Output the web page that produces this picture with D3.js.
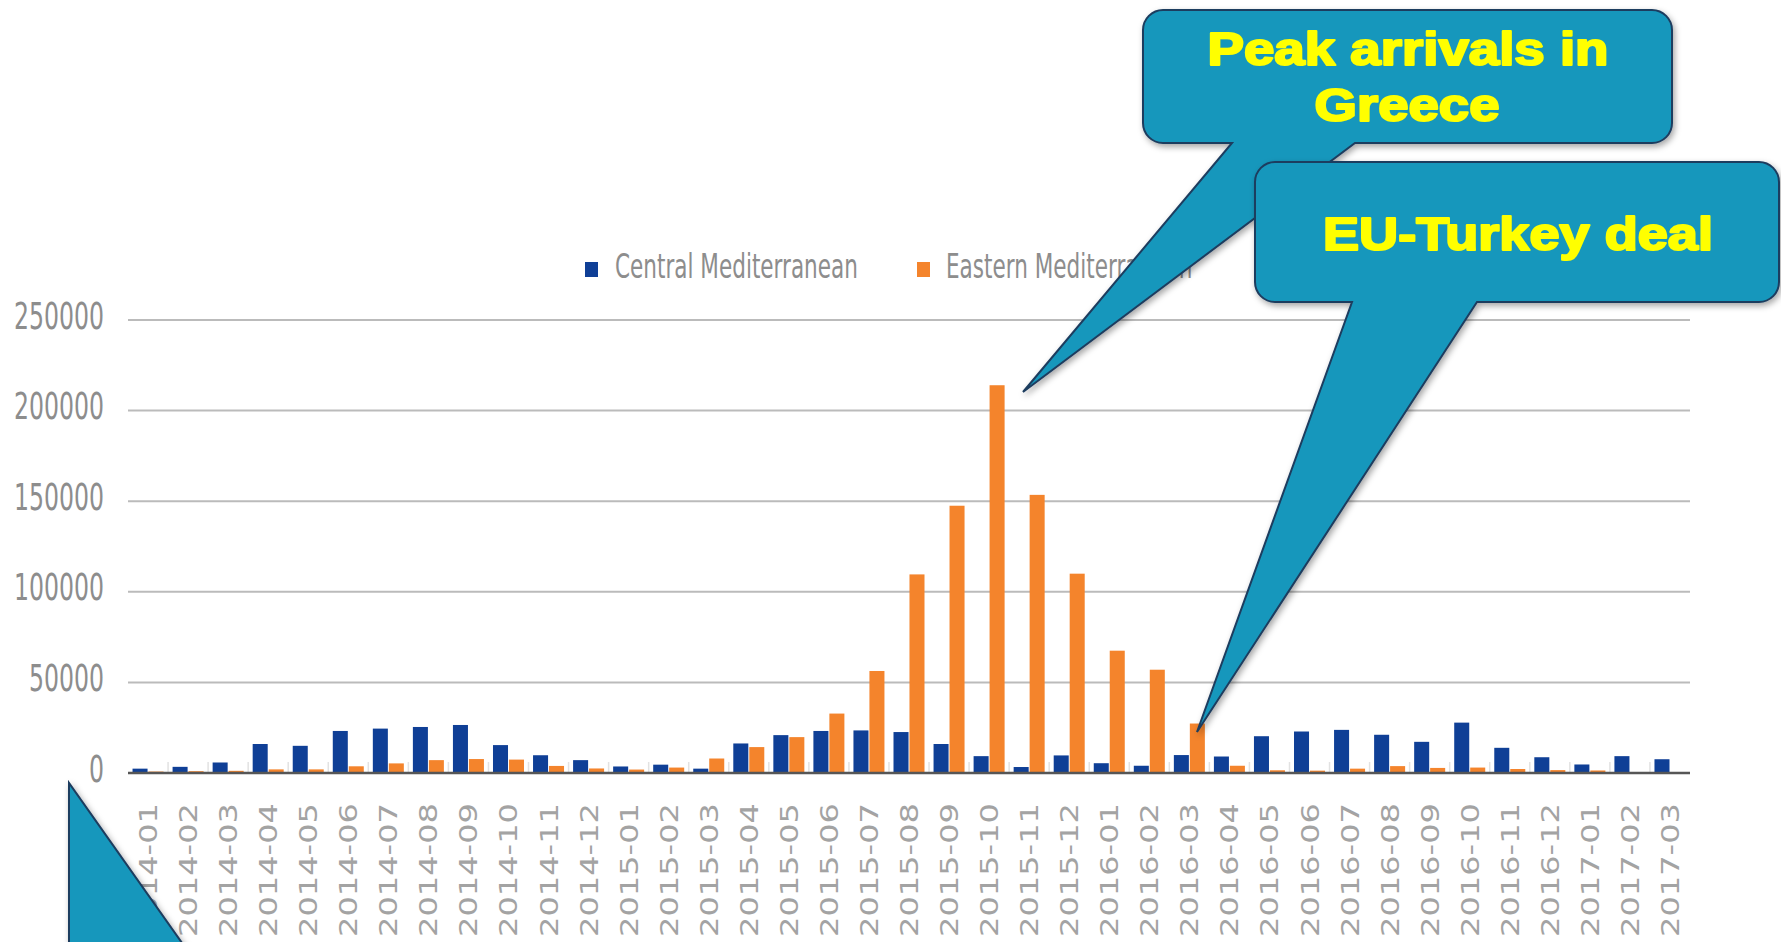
<!DOCTYPE html>
<html>
<head>
<meta charset="utf-8">
<script src="https://cdn.jsdelivr.net/npm/d3@7"></script>
<style>
html,body{margin:0;padding:0;background:#fff;overflow:hidden;}
svg{display:block;}
</style>
</head>
<body>
<svg id="chart" width="1781" height="942"></svg>
<script>
// ---- data ----
const months = [
  "2014-01","2014-02","2014-03","2014-04","2014-05","2014-06","2014-07","2014-08","2014-09","2014-10","2014-11","2014-12",
  "2015-01","2015-02","2015-03","2015-04","2015-05","2015-06","2015-07","2015-08","2015-09","2015-10","2015-11","2015-12",
  "2016-01","2016-02","2016-03","2016-04","2016-05","2016-06","2016-07","2016-08","2016-09","2016-10","2016-11","2016-12",
  "2017-01","2017-02","2017-03"
];
const central = [
  2400, 3400, 5800, 16000, 15000, 23200, 24500, 25400, 26500, 15400, 9800, 7100,
  3600, 4600, 2400, 16300, 20900, 23200, 23500, 22600, 16000, 9300, 3300, 9700,
  5400, 4000, 9900, 9100, 20300, 22900, 23800, 21100, 17200, 27800, 13900, 8700,
  4700, 9300, 7600
];
const eastern = [
  800, 1000, 1200, 2000, 2000, 3700, 5300, 7100, 7700, 7400, 3900, 2500,
  1900, 3000, 8000, 14300, 19800, 32800, 56300, 109600, 147500, 214000, 153500, 110000,
  67500, 57000, 27300, 4000, 1500, 1300, 2400, 3800, 2800, 3000, 2200, 1600,
  1400, 400, 300
];
const seriesNames = ["Central Mediterranean", "Eastern Mediterranean"];
const seriesColors = ["#0f3f96", "#f4842c"];
const yTicks = [0, 50000, 100000, 150000, 200000, 250000];
const callout1Lines = ["Peak arrivals in", "Greece"];
const callout2Lines = ["EU-Turkey deal"];

// ---- layout ----
const svg = d3.select("#chart");
const left = 128, right = 1690, y0 = 773, yTop = 320;

const x = d3.scaleBand().domain(months).range([left, right]).paddingInner(0).paddingOuter(0);
const bw = x.bandwidth();
const x1 = d3.scaleBand().domain([0, 1]).range([bw / 2 - 15.5, bw / 2 + 15.5]).paddingInner(0.06);
const y = d3.scaleLinear().domain([0, 250000]).range([y0, yTop]);

const defs = svg.append("defs");
const f = defs.append("filter").attr("id", "shadow").attr("x", "-10%").attr("y", "-10%").attr("width", "130%").attr("height", "130%");
f.append("feDropShadow").attr("dx", 2).attr("dy", 3).attr("stdDeviation", 3).attr("flood-color", "#000").attr("flood-opacity", 0.35);

// gridlines
svg.append("g").selectAll("line").data(yTicks.filter(d => d > 0)).join("line")
  .attr("x1", left).attr("x2", right)
  .attr("y1", d => y(d)).attr("y2", d => y(d))
  .attr("stroke", "#bbbbbb").attr("stroke-width", 2);

// faint category separators
svg.append("g").selectAll("line").data(months.slice(1)).join("line")
  .attr("x1", d => x(d)).attr("x2", d => x(d))
  .attr("y1", y0).attr("y2", y0 - 11)
  .attr("stroke", "#e2e2e2").attr("stroke-width", 1.5);

// y axis labels
const yAxis = svg.append("g").attr("transform", "translate(104,0)")
  .call(d3.axisLeft(y).tickValues(yTicks).tickSize(0).tickPadding(0).tickFormat(d3.format("d")));
yAxis.select(".domain").remove();
yAxis.selectAll("text")
  .attr("font-family", "'Liberation Sans Narrow','DejaVu Sans Condensed','Roboto',sans-serif")
  .attr("font-size", 37).attr("fill", "#8d8d8d").attr("dy", 0)
  .attr("x", 0).attr("y", 8);
{
  let ref = null;
  yAxis.selectAll("text").each(function (d) { if (d === 250000) ref = this.getComputedTextLength(); });
  const sx = 90 / ref;
  yAxis.selectAll(".tick text").attr("transform", `scale(${sx},1)`);
}

// bars
const gBars = svg.append("g");
const groups = gBars.selectAll("g").data(months).join("g").attr("transform", d => `translate(${x(d)},0)`);
groups.selectAll("rect").data((d, i) => [central[i], eastern[i]]).join("rect")
  .attr("x", (d, j) => x1(j)).attr("width", x1.bandwidth())
  .attr("y", d => y(d)).attr("height", d => y0 - y(d))
  .attr("fill", (d, j) => seriesColors[j]);

// baseline
svg.append("line").attr("x1", left).attr("x2", right).attr("y1", y0).attr("y2", y0)
  .attr("stroke", "#565656").attr("stroke-width", 2.5);

// x axis labels
const xAxis = svg.append("g").attr("transform", "translate(0,803)")
  .call(d3.axisBottom(x).tickSize(0).tickPadding(0));
xAxis.select(".domain").remove();
xAxis.selectAll("text")
  .attr("font-family", "'DejaVu Sans',sans-serif").attr("font-size", 25).attr("fill", "#a3a3a3")
  .attr("text-anchor", "end").attr("dy", 0).attr("y", 0).attr("x", 0)
  .attr("transform", "translate(9,0) rotate(-90)")
  .attr("textLength", 134).attr("lengthAdjust", "spacingAndGlyphs");

// legend
const legend = svg.append("g");
const legendItems = [
  { sq: 585, tx: 615, name: seriesNames[0], color: seriesColors[0] },
  { sq: 917, tx: 946, name: seriesNames[1], color: seriesColors[1] }
];
legendItems.forEach(it => {
  legend.append("rect").attr("x", it.sq).attr("y", 262).attr("width", 13).attr("height", 15).attr("fill", it.color);
});
const legTexts = legend.selectAll("text.leg").data(legendItems).join("text").attr("class", "leg")
  .attr("font-family", "'Liberation Sans Narrow','DejaVu Sans Condensed','Roboto',sans-serif")
  .attr("font-size", 34).attr("fill", "#8d8d8d")
  .text(d => d.name);
{
  const nat = legTexts.nodes()[0].getComputedTextLength();
  const sx = 243 / nat;
  legTexts.attr("transform", d => `translate(${d.tx},278) scale(${sx},1)`);
}

// ---- callouts ----
function calloutPath(x0, y0c, x1c, y1c, r, baseL, baseR, tip) {
  return `M${x0 + r},${y0c} H${x1c - r} A${r},${r} 0 0 1 ${x1c},${y0c + r} V${y1c - r} A${r},${r} 0 0 1 ${x1c - r},${y1c}` +
    ` H${baseR} L${tip[0]},${tip[1]} L${baseL},${y1c} H${x0 + r} A${r},${r} 0 0 1 ${x0},${y1c - r} V${y0c + r} A${r},${r} 0 0 1 ${x0 + r},${y0c} Z`;
}
const calloutFill = "#1897bc", calloutStroke = "#1d3c5e", textColor = "#ffff00";
const gC = svg.append("g");

// bottom-left partial callout pointer
gC.append("path").attr("d", "M69,783 L69,950 L187,950 Z")
  .attr("fill", calloutFill).attr("stroke", calloutStroke).attr("stroke-width", 2).attr("filter", "url(#shadow)");

// callout 1: Peak arrivals in Greece
gC.append("path").attr("d", calloutPath(1143, 10, 1672, 143, 20, 1232, 1355, [1023, 392]))
  .attr("fill", calloutFill).attr("stroke", calloutStroke).attr("stroke-width", 2).attr("filter", "url(#shadow)");
// callout 2: EU-Turkey deal
gC.append("path").attr("d", calloutPath(1255, 162, 1779, 302, 20, 1352, 1477, [1197, 732]))
  .attr("fill", calloutFill).attr("stroke", calloutStroke).attr("stroke-width", 2).attr("filter", "url(#shadow)");

const calloutTexts = [
  { t: callout1Lines[0], x: 1408, y: 65, w: 401 },
  { t: callout1Lines[1], x: 1407, y: 121, w: 185 },
  { t: callout2Lines[0], x: 1518, y: 250, w: 390 }
];
gC.selectAll("text.ct").data(calloutTexts).join("text").attr("class", "ct")
  .attr("x", d => d.x).attr("y", d => d.y)
  .attr("text-anchor", "middle")
  .attr("font-family", "'Liberation Sans',Arial,sans-serif").attr("font-weight", "bold")
  .attr("font-size", 47).attr("fill", textColor)
  .attr("stroke", textColor).attr("stroke-width", 2.2).attr("stroke-linejoin", "round")
  .attr("textLength", d => d.w).attr("lengthAdjust", "spacingAndGlyphs")
  .text(d => d.t);
</script>
</body>
</html>
